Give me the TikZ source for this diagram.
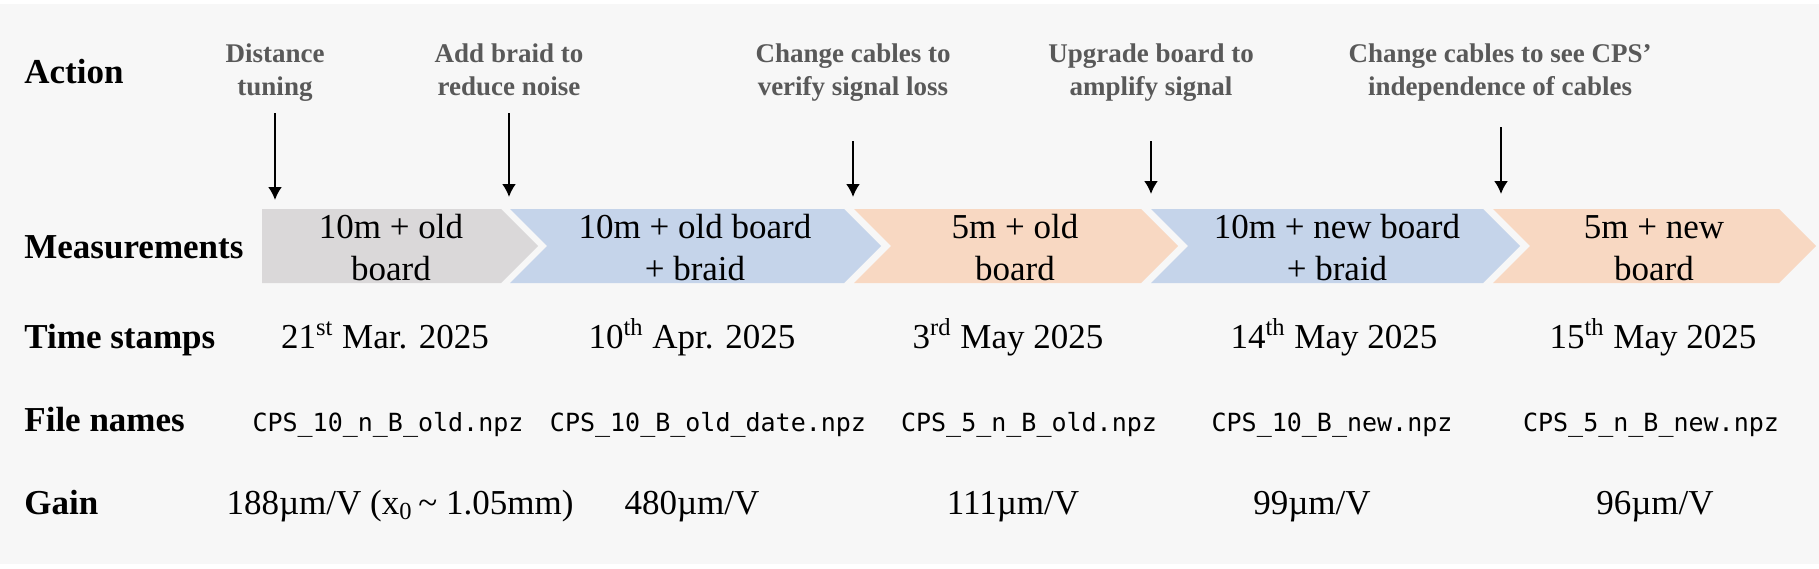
\documentclass[tikz,border=0pt]{standalone}
\usepackage{fontspec}
\setmainfont{Liberation Serif}
\setmonofont{DejaVu Sans Mono}
\usetikzlibrary{arrows.meta}

\definecolor{bggray}{HTML}{F7F7F7}
\definecolor{actgray}{HTML}{595959}
\definecolor{chgray}{HTML}{DAD8D9}
\definecolor{chblue}{HTML}{C5D4EA}
\definecolor{chorange}{HTML}{F8D8C2}

\tikzset{
  rowlabel/.style={anchor=base west, inner sep=0pt, font=\fontsize{17.5}{21}\selectfont\bfseries},
  action/.style={align=center, inner sep=0pt, text=actgray,
    font=\fontsize{13.5}{16.5}\selectfont\bfseries,
    execute at begin node=\strut, execute at end node=\strut},
  meas/.style={align=center, inner sep=0pt, font=\fontsize{17.5}{21}\selectfont,
    execute at begin node=\strut, execute at end node=\strut},
  stamp/.style={anchor=base, inner sep=0pt, font=\fontsize{17.5}{21}\selectfont},
  fname/.style={anchor=base, inner sep=0pt, font=\fontsize{12.5}{15}\selectfont\ttfamily},
  pointer/.style={-{Latex[length=6.5pt,width=7pt]}, line width=1pt}
}

\begin{document}
\begin{tikzpicture}[x=0.5pt,y=-0.5pt]
  %background
  \useasboundingbox (0,0) rectangle (1819,568);
  \fill [bggray] (0,4) rectangle (1819,564);
  %row labels
  \node [rowlabel] (lact) at (24,83) {Action};
  \node [rowlabel] (lmeas) at (24,258) {Measurements};
  \node [rowlabel] (ltime) at (24,348) {Time stamps};
  \node [rowlabel] (lfile) at (24,431) {File names};
  \node [rowlabel] (lgain) at (24,514) {Gain};
  %draw the chevrons
  \fill [chgray] (262,209) -- (501,209) -- (538,246) -- (501,283) -- (262,283) -- cycle;
  \fill [chblue] (510,209) -- (844,209) -- (881,246) -- (844,283) -- (510,283) -- (547,246) -- cycle;
  \fill [chorange] (854,209) -- (1141,209) -- (1178,246) -- (1141,283) -- (854,283) -- (891,246) -- cycle;
  \fill [chblue] (1151,209) -- (1483,209) -- (1520,246) -- (1483,283) -- (1151,283) -- (1188,246) -- cycle;
  \fill [chorange] (1493,209) -- (1779,209) -- (1816,246) -- (1779,283) -- (1493,283) -- (1530,246) -- cycle;
  \node [meas] (m1) at (391,254) {10m + old\\board};
  \node [meas] (m2) at (695,254) {10m + old board\\+ braid};
  \node [meas] (m3) at (1015,254) {5m + old\\board};
  \node [meas] (m4) at (1337,254) {10m + new board\\+ braid};
  \node [meas] (m5) at (1654,254) {5m + new\\board};
  %actions and their arrows
  \node [action] (act1) at (275,75) {Distance\\tuning};
  \node [action] (act2) at (509,75) {Add braid to\\reduce noise};
  \node [action] (act3) at (853,75) {Change cables to\\verify signal loss};
  \node [action] (act4) at (1151,75) {Upgrade board to\\amplify signal};
  \node [action] (act5) at (1500,75) {Change cables to see CPS’\\independence of cables};
  \coordinate (p1s) at (275,113);  \coordinate (p1e) at (275,200);
  \coordinate (p2s) at (509,113);  \coordinate (p2e) at (509,197);
  \coordinate (p3s) at (853,141);  \coordinate (p3e) at (853,197);
  \coordinate (p4s) at (1151,141); \coordinate (p4e) at (1151,194);
  \coordinate (p5s) at (1501,127); \coordinate (p5e) at (1501,194);
  \draw [pointer] (p1s) -- (p1e);
  \draw [pointer] (p2s) -- (p2e);
  \draw [pointer] (p3s) -- (p3e);
  \draw [pointer] (p4s) -- (p4e);
  \draw [pointer] (p5s) -- (p5e);
  %time stamps
  \node [stamp] (t1) at (385,348) {21\textsuperscript{st} Mar. 2025};
  \node [stamp] (t2) at (692,348) {10\textsuperscript{th} Apr. 2025};
  \node [stamp] (t3) at (1008,348) {3\textsuperscript{rd} May 2025};
  \node [stamp] (t4) at (1334,348) {14\textsuperscript{th} May 2025};
  \node [stamp] (t5) at (1653,348) {15\textsuperscript{th} May 2025};
  %file names
  \node [fname] (f1) at (388,431) {CPS\_10\_n\_B\_old.npz};
  \node [fname] (f2) at (708,431) {CPS\_10\_B\_old\_date.npz};
  \node [fname] (f3) at (1029,431) {CPS\_5\_n\_B\_old.npz};
  \node [fname] (f4) at (1332,431) {CPS\_10\_B\_new.npz};
  \node [fname] (f5) at (1651,431) {CPS\_5\_n\_B\_new.npz};
  %gains
  \node [stamp] (g1) at (400,514) {188µm/V (x\textsubscript{0}\,\textasciitilde\ 1.05mm)};
  \node [stamp] (g2) at (692,514) {480µm/V};
  \node [stamp] (g3) at (1013,514) {111µm/V};
  \node [stamp] (g4) at (1312,514) {99µm/V};
  \node [stamp] (g5) at (1655,514) {96µm/V};
\end{tikzpicture}
\end{document}
